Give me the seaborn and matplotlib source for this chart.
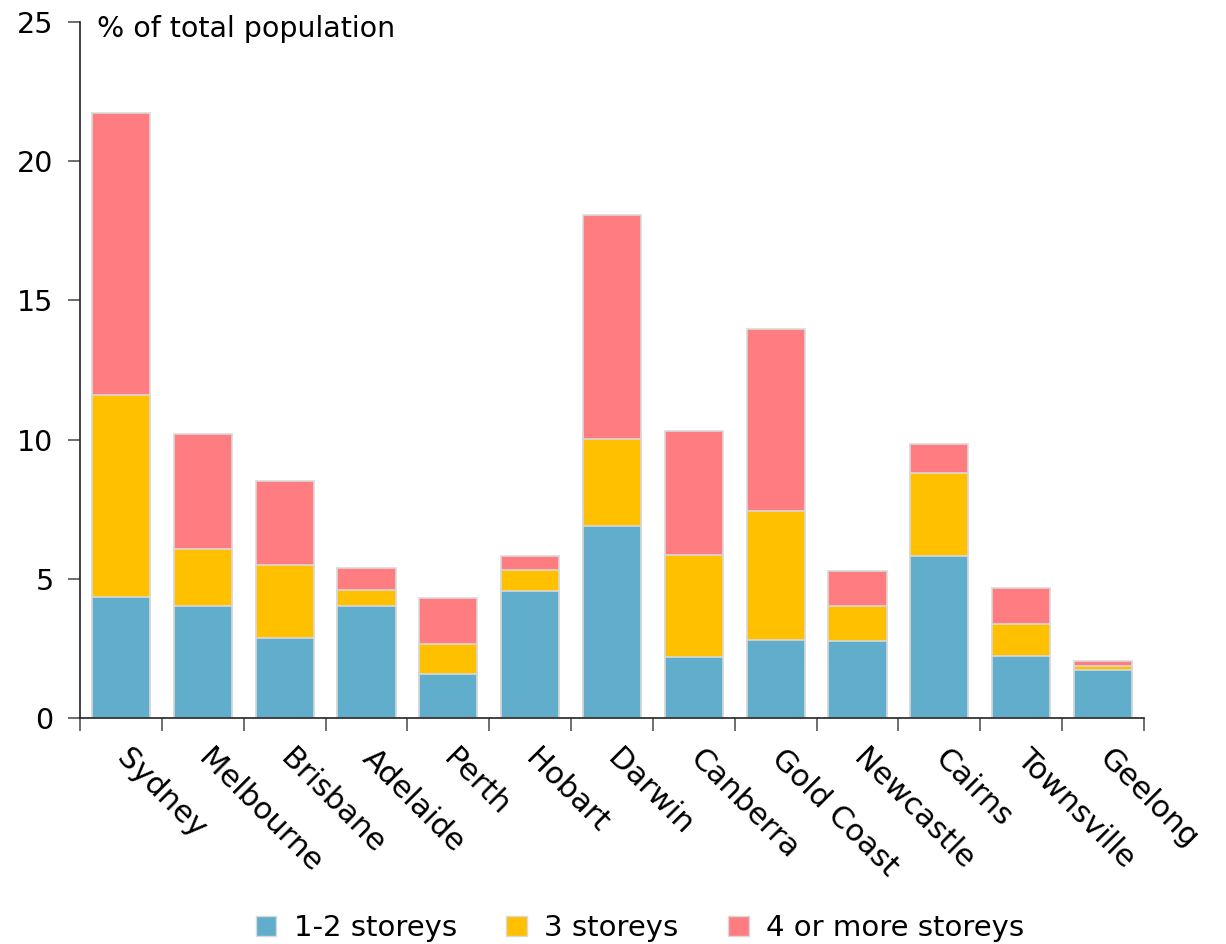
import numpy as np
import pandas as pd
import matplotlib
matplotlib.use("Agg")
import matplotlib.pyplot as plt
import seaborn as sns
from matplotlib.patches import Patch

cities = ["Sydney", "Melbourne", "Brisbane", "Adelaide", "Perth", "Hobart", "Darwin",
          "Canberra", "Gold Coast", "Newcastle", "Cairns", "Townsville", "Geelong"]
low_rise = [4.35, 4.02, 2.87, 4.02, 1.58, 4.56, 6.90, 2.19, 2.80, 2.77, 5.82, 2.23, 1.72]
three_storey = [7.25, 2.05, 2.63, 0.58, 1.08, 0.76, 3.12, 3.66, 4.64, 1.25, 2.98, 1.15, 0.15]
four_plus = [10.13, 4.13, 3.01, 0.79, 1.65, 0.50, 8.05, 4.46, 6.53, 1.26, 1.04, 1.29, 0.18]
series_names = ["1-2 storeys", "3 storeys", "4 or more storeys"]
colors = ["#60AECB", "#FFC000", "#FF7C80"]

sns.set_theme(style="white")
plt.rcParams["font.family"] = ["DejaVu Sans"]
plt.rcParams["text.color"] = "black"
plt.rcParams["xtick.color"] = "black"
plt.rcParams["ytick.color"] = "black"

df = pd.DataFrame({"city": cities, "low": low_rise, "three": three_storey, "four": four_plus})
df["cum2"] = df["low"] + df["three"]
df["cum3"] = df["cum2"] + df["four"]

fig = plt.figure(figsize=(12.26, 9.44), dpi=100)
ax = fig.add_axes([80/1226, 1-718/944, (1144-80)/1226, (718-22)/944])

edge = "#D9D9D9"
for col, c in zip(["cum3", "cum2", "low"], colors[::-1]):
    sns.barplot(data=df, x="city", y=col, color=c, width=0.71, saturation=1,
                edgecolor=edge, linewidth=1.2, ax=ax, order=cities)

ax.set_xlim(-0.5, len(cities) - 0.5)
ax.set_ylim(0, 25)
ax.set_yticks([0, 5, 10, 15, 20, 25])
ax.set_xlabel("")
ax.set_ylabel("")
for s in ["top", "right"]:
    ax.spines[s].set_visible(False)
for s in ["left", "bottom"]:
    ax.spines[s].set_color("#222222")
    ax.spines[s].set_linewidth(1.2)

ax.tick_params(axis="y", direction="out", length=9, width=1.2, color="#555555",
               labelsize=20.5, pad=10, left=True, labelcolor="black")
ax.set_xticks(np.arange(-0.5, len(cities), 1.0), minor=True)
ax.tick_params(axis="x", which="minor", direction="out", length=9, width=1.2,
               color="#555555", bottom=True)
ax.tick_params(axis="x", which="major", length=0, pad=26, labelcolor="black")
ax.set_xticks(np.arange(len(cities)))
ax.set_xticklabels(cities, rotation=-45, ha="left", va="center",
                   rotation_mode="anchor", fontsize=22)

ax.text(0.016, 1.01, "% of total population", transform=ax.transAxes,
        fontsize=20.5, ha="left", va="top", color="black")

handles = [Patch(facecolor=c, edgecolor=edge, label=n) for c, n in zip(colors, series_names)]
fig.legend(handles=handles, loc="lower center", bbox_to_anchor=(0.522, -0.026), ncol=3,
           frameon=False, fontsize=21, handlelength=0.7, handleheight=0.7,
           handletextpad=0.6, columnspacing=1.7, labelcolor="black")

fig.savefig("out.png", dpi=100)
